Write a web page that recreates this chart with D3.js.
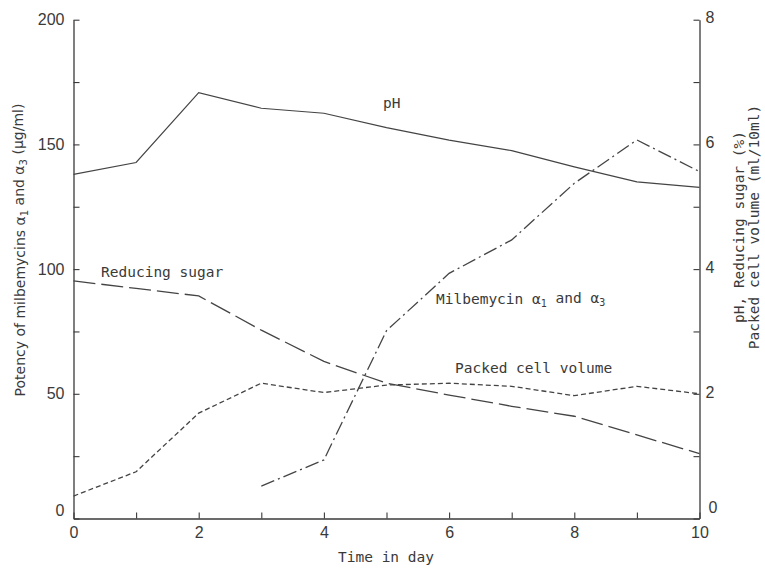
<!DOCTYPE html>
<html>
<head>
<meta charset="utf-8">
<script src="https://cdn.jsdelivr.net/npm/d3@7"></script>
<style>
  html, body { margin: 0; padding: 0; background: #fff; }
  svg { display: block; }
</style>
</head>
<body>
<svg id="chart" width="765" height="569"></svg>
<script>
// ---- data (days 0..10) ----
const days = [0, 1, 2, 3, 4, 5, 6, 7, 8, 9, 10];
// right axis units
const pH = [5.52, 5.71, 6.83, 6.58, 6.50, 6.27, 6.07, 5.90, 5.64, 5.40, 5.31];
const reducingSugar = [3.81, 3.69, 3.57, 3.02, 2.52, 2.17, 1.98, 1.80, 1.64, 1.34, 1.04];
const packedCellVolume = [0.36, 0.75, 1.69, 2.17, 2.02, 2.14, 2.17, 2.12, 1.97, 2.12, 2.00];
// left axis units (µg/ml), starts day 3
const milbemycinDays = [3, 4, 5, 6, 7, 8, 9, 10];
const milbemycin = [13.0, 23.5, 75.3, 98.3, 111.7, 134.4, 151.8, 139.1];

const xTicks = [0, 1, 2, 3, 4, 5, 6, 7, 8, 9, 10];
const xTickLabels = [0, 2, 4, 6, 8, 10];
const leftTicks = [0, 25, 50, 75, 100, 125, 150, 175, 200];
const leftTickLabels = [0, 50, 100, 150, 200];
const rightTicks = [0, 1, 2, 3, 4, 5, 6, 7, 8];
const rightTickLabels = [0, 2, 4, 6, 8];

// ---- layout ----
const svg = d3.select("#chart");
const x = d3.scaleLinear().domain([0, 10]).range([73.5, 699.5]);
const yL = d3.scaleLinear().domain([0, 200]).range([518.5, 19.7]);
const yR = d3.scaleLinear().domain([0, 8]).range([518.5, 19.7]);

const ink = "#3a3a3a";
const tickFont = "'Liberation Sans', Arial, sans-serif";
const monoFont = "'DejaVu Sans Mono', 'Liberation Mono', monospace";

// axes
const gx = svg.append("g").attr("transform", `translate(0,${yL(0)})`)
  .call(d3.axisBottom(x).tickValues(xTicks).tickSizeInner(-6).tickSizeOuter(0).tickPadding(8)
    .tickFormat(d => xTickLabels.includes(d) ? d : ""));
const gl = svg.append("g").attr("transform", `translate(${x(0)},0)`)
  .call(d3.axisLeft(yL).tickValues(leftTicks).tickSizeInner(-6).tickSizeOuter(0).tickPadding(9)
    .tickFormat(d => leftTickLabels.includes(d) ? d : ""));
const gr = svg.append("g").attr("transform", `translate(${x(10)},0)`)
  .call(d3.axisRight(yR).tickValues(rightTicks).tickSizeInner(-6).tickSizeOuter(0).tickPadding(6)
    .tickFormat(d => rightTickLabels.includes(d) ? d : ""));

[gx, gl, gr].forEach(g => {
  g.selectAll("path.domain").attr("stroke", ink).attr("stroke-width", 1.3);
  g.selectAll(".tick line").attr("stroke", ink).attr("stroke-width", 1.1);
  g.selectAll(".tick text").attr("fill", ink).style("font-family", tickFont).style("font-size", "16px");
});
// zero labels on vertical axes sit a little above the corner
gl.selectAll(".tick text").filter(d => d === 0).attr("dy", "-0.2em");
gr.selectAll(".tick text").filter(d => d !== 0).attr("dy", "0.2em");
gr.selectAll(".tick text").filter(d => d === 0).attr("dy", "-0.4em").attr("x", 9);

// ---- lines ----
const lineR = d3.line().x((d, i) => x(days[i])).y(d => yR(d));
const lineL = d3.line().x((d, i) => x(milbemycinDays[i])).y(d => yL(d));

const lineStroke = "#444";
svg.append("path").attr("d", lineR(pH)).attr("fill", "none")
  .attr("stroke", lineStroke).attr("stroke-width", 1.2);
svg.append("path").attr("d", lineR(reducingSugar)).attr("fill", "none")
  .attr("stroke", lineStroke).attr("stroke-width", 1.3).attr("stroke-dasharray", "22,6");
svg.append("path").attr("d", lineR(packedCellVolume)).attr("fill", "none")
  .attr("stroke", lineStroke).attr("stroke-width", 1.3).attr("stroke-dasharray", "5,3");
svg.append("path").attr("d", lineL(milbemycin)).attr("fill", "none")
  .attr("stroke", lineStroke).attr("stroke-width", 1.3).attr("stroke-dasharray", "14,4,2,4");

// ---- in-plot labels ----
function label(tx, ty, parts) {
  const t = svg.append("text").attr("x", tx).attr("y", ty)
    .attr("fill", ink).style("font-family", monoFont).style("font-size", "14.5px");
  parts.forEach(p => {
    const s = t.append("tspan").text(p.t);
    if (p.sub) s.attr("dy", "0.3em").style("font-size", "10px");
    if (p.up) s.attr("dy", "-0.3em");
  });
  return t;
}
label(383, 108, [{t: "pH"}]);
label(101, 277, [{t: "Reducing sugar"}]);
label(436, 304, [{t: "Milbemycin "}, {t: "α"}, {t: "1", sub: true}, {t: " and ", up: true}, {t: "α"}, {t: "3", sub: true}]);
label(455, 373, [{t: "Packed cell volume"}]);

// ---- axis titles ----
svg.append("text").attr("x", 386).attr("y", 562).attr("text-anchor", "middle")
  .attr("fill", ink).style("font-family", monoFont).style("font-size", "14.5px").text("Time in day");

const lt = svg.append("text").attr("transform", "translate(25,250) rotate(-90)")
  .attr("text-anchor", "middle").attr("fill", ink)
  .style("font-family", "'DejaVu Sans', sans-serif").style("font-size", "14px");
lt.append("tspan").text("Potency of milbemycins α");
lt.append("tspan").text("1").attr("dy", "0.3em").style("font-size", "10px");
lt.append("tspan").text(" and α").attr("dy", "-0.3em");
lt.append("tspan").text("3").attr("dy", "0.3em").style("font-size", "10px");
lt.append("tspan").text(" (μg/ml)").attr("dy", "-0.3em");

const rt = svg.append("text").attr("transform", "translate(744,227) rotate(-90)")
  .attr("text-anchor", "middle").attr("fill", ink)
  .style("font-family", monoFont).style("font-size", "14.5px");
rt.append("tspan").attr("x", 0).attr("dy", 0).text("pH, Reducing sugar (%)");
rt.append("tspan").attr("x", 0).attr("dy", "1.05em").text("Packed cell volume (ml/10ml)");
</script>
</body>
</html>
